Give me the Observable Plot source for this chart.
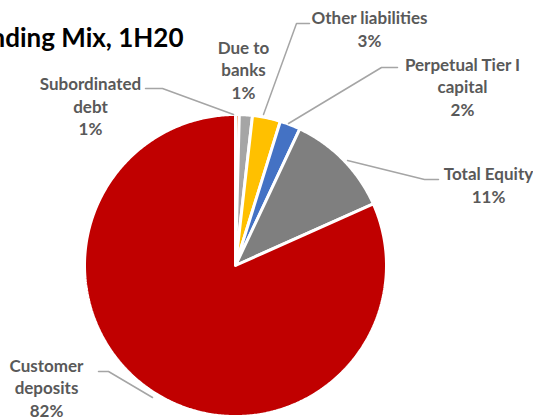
<!DOCTYPE html>
<html><head><meta charset="utf-8">
<script src="https://cdn.jsdelivr.net/npm/d3@7"></script>
<script src="https://cdn.jsdelivr.net/npm/@observablehq/plot@0.6"></script>
<style>body{margin:0;background:#fff;overflow:hidden}</style>
</head><body><div id="chart"></div>
<script>
const categories = ["Subordinated debt","Due to banks","Other liabilities","Perpetual Tier I capital","Total Equity","Customer deposits"];
const values = [0.4, 1.4, 3.0, 2.2, 11.3, 81.7];
const labelText = ["Subordinated\ndebt\n1%","Due to\nbanks\n1%","Other liabilities\n3%","Perpetual Tier I\ncapital\n2%","Total Equity\n11%","Customer\ndeposits\n82%"];
const title = "Funding Mix, 1H20";

// layout (pixels)
const W = 533, H = 420, cx = 235, cy = 265, R = 151;
const colors = ["#ED7D31","#A5A5A5","#FFC000","#4472C4","#7F7F7F","#C00000"];
const labelPos = [[90,105],[243,68.5],[369,28],[462,85.5],[488,184],[46,386.5]];
const leaders = [
  [[145,88],[162,88],[233,114]],
  null,
  [[309,23],[296,23],[263,114]],
  [[397,67],[381,67],[288,123]],
  [[347,160],[424,179],[438,179]],
  [[98,371],[108,371],[152,397]]
];

const pie = d3.pie().sort(null).value(d => d)(values);
const polys = [];
pie.forEach((a, i) => {
  const n = Math.max(4, Math.ceil((a.endAngle - a.startAngle) / 0.01));
  polys.push({k: i, x: cx, y: cy});
  for (let j = 0; j <= n; j++) {
    const t = a.startAngle + (a.endAngle - a.startAngle) * j / n;
    polys.push({k: i, x: cx + R * Math.sin(t), y: cy - R * Math.cos(t)});
  }
  polys.push({k: i, x: cx, y: cy});
});
const leaderPts = [];
leaders.forEach((l, i) => { if (l) l.forEach(p => leaderPts.push({k: i, x: p[0], y: p[1]})); });
const labels = labelText.map((t, i) => ({t, x: labelPos[i][0], y: labelPos[i][1]}));

const chart = Plot.plot({
  width: W, height: H, margin: 0,
  x: {domain: [0, W], range: [0, W], axis: null},
  y: {domain: [0, H], range: [0, H], axis: null},
  style: {fontFamily: "Lato, 'Open Sans', sans-serif", background: "#fff"},
  marks: [
    Plot.line(polys, {x: "x", y: "y", z: "k", fill: d => colors[d.k], stroke: "#fff", strokeWidth: 3, strokeLinejoin: "miter", curve: "linear"}),
    Plot.line(leaderPts, {x: "x", y: "y", z: "k", stroke: "#A5A5A5", strokeWidth: 1.5}),
    Plot.text(labels, {x: "x", y: "y", text: "t", fill: "#595959", fontWeight: "bold", fontSize: 17, lineHeight: 1.33, lineAnchor: "middle"}),
    Plot.text([title], {x: 183, y: 40, text: d => d, textAnchor: "end", lineAnchor: "bottom", fill: "#000", fontWeight: "bold", fontSize: 26, dy: 6})
  ]
});
document.getElementById("chart").append(chart);
</script></body></html>
